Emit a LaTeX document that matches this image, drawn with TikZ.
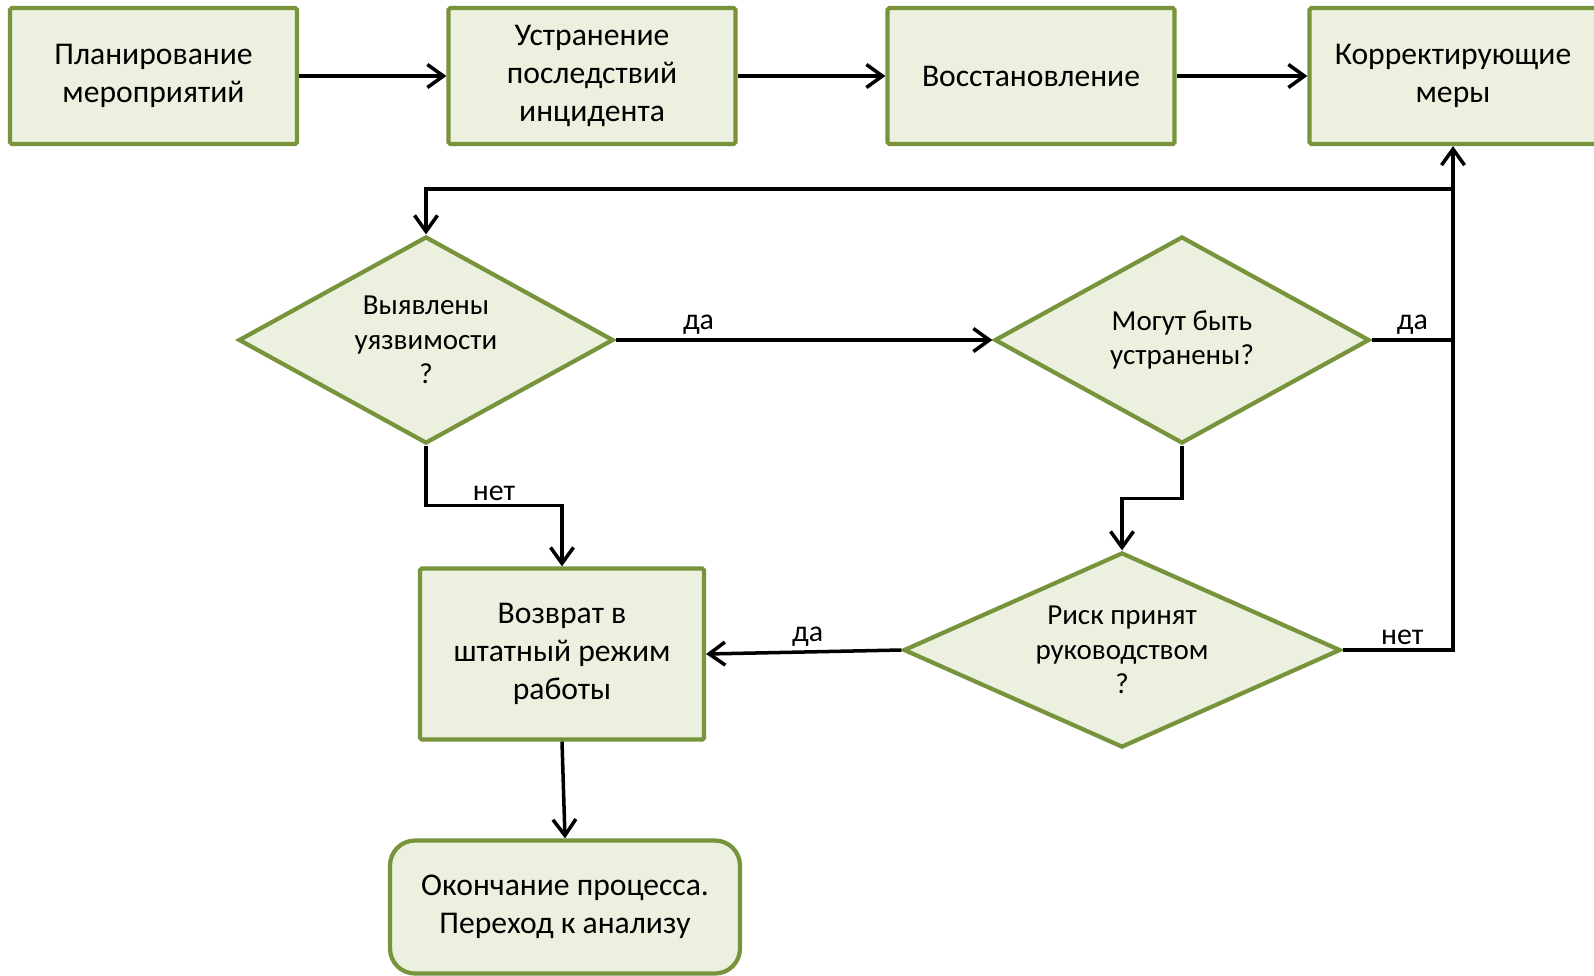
\documentclass[tikz,border=0pt]{standalone}
\usepackage{fontspec}
\setmainfont{Carlito}
\usetikzlibrary{arrows.meta,
                positioning,
                shapes.geometric
            }
\definecolor{boxline}{HTML}{77933C}
\definecolor{boxfill}{HTML}{EBF1DE}

\begin{document}
\begin{tikzpicture}[
        stepbox/.style={draw=boxline, fill=boxfill, line width=2.4pt, rounded corners=1pt,
            minimum width=5.74cm, minimum height=2.72cm, align=center,
            font=\fontsize{18}{21.6}\selectfont},
        decision/.style={diamond, draw=boxline, fill=boxfill, line width=2.4pt,
            inner sep=0pt, align=center, font=\fontsize{16.5}{19.6}\selectfont},
        flow/.style={line width=2pt, -{Straight Barb[length=0.32cm, width=0.46cm, line width=2pt]}},
        link/.style={line width=2pt},
        lbl/.style={font=\fontsize{17}{20}\selectfont, inner sep=2pt}
    ]
            \useasboundingbox (0,0) rectangle (31.88,-19.5);

            \node[stepbox] (plan) at (3.07, -1.52) {Планирование\\мероприятий};
            \node[stepbox] (fix) at (11.84, -1.52) {Устранение\\последствий\\инцидента};
            \node[stepbox] (restore) at (20.62, -1.52) {Восстановление};
            \node[stepbox] (correct) at (29.06, -1.52) {Корректирующие\\меры};

            \node[decision, minimum width=7.5cm, minimum height=4.14cm, aspect=1.8] (vuln) at (8.52, -6.8) {Выявлены\\уязвимости\\?};
            \node[decision, minimum width=7.5cm, minimum height=4.14cm, aspect=1.8] (canfix) at (23.64, -6.8) {Могут быть\\устранены?};
            \node[decision, minimum width=8.74cm, minimum height=3.9cm, aspect=2.2] (risk) at (22.44, -13.0) {Риск принят\\руководством\\?};

            \node[stepbox, minimum width=5.68cm, minimum height=3.42cm] (back) at (11.24, -13.08) {Возврат в\\штатный режим\\работы};
            \node[stepbox, rounded corners=0.5cm, minimum width=7.0cm, minimum height=2.66cm] (finish) at (11.3, -18.14) {Окончание процесса.\\Переход к анализу};

            \coordinate (loop) at (29.06, -3.78);

            % top row
            \draw[flow] (plan) -- (fix);
            \draw[flow] (fix) -- (restore);
            \draw[flow] (restore) -- (correct);

            % decisions
            \draw[flow] (loop) -| (vuln.north);
            \draw[flow] (vuln.east) -- node[lbl, above, pos=0.22] {да} (canfix.west);
            \draw[link] (canfix.east) -- node[lbl, above] {да} (canfix.east -| loop);
            \draw[flow] (risk.east) -| node[lbl, above, pos=0.27] {нет} (correct.south);
            \draw[flow] (vuln.south) -- ++(0,-1.2) -| node[lbl, above, pos=0.25] {нет} (back.north);
            \draw[flow] (canfix.south) -- ++(0,-1.06) -| (risk.north);
            \draw[flow] (risk.west) -- node[lbl, above, pos=0.48] {да} (back.east);
            \draw[flow] (back.south) -- (finish.north);
        \end{tikzpicture}
\end{document}
